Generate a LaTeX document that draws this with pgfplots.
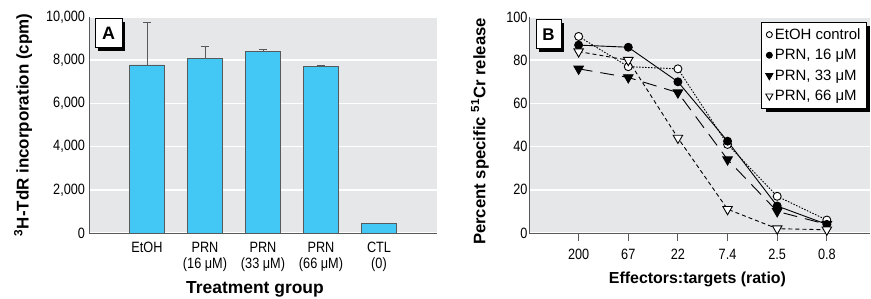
\documentclass[border=0pt]{standalone}
\usepackage{pgfplots}
\pgfplotsset{compat=1.18}
\usepackage{fontspec}
\setmainfont{Liberation Sans}
\newfontfamily\condensed{Liberation Sans}[FakeStretch=0.85]
\usetikzlibrary{shadows}
\definecolor{bggray}{HTML}{E6E7E8}
\definecolor{barblue}{HTML}{43C7F4}
\definecolor{axgray}{HTML}{58595B}
\pgfplotsset{
  tick label style={font=\condensed\fontsize{15}{16}\selectfont},
  label style={font=\bfseries\fontsize{17}{18}\selectfont},
  every axis/.append style={
    scale only axis, anchor=south west,
    axis lines*=left,
    axis line style={draw=axgray, line width=1bp},
    axis background/.style={fill=bggray},
    ymajorgrids, grid style={white, line width=1.5bp},
    scaled y ticks=false,
    ytick style={draw=none},
  }
}
\begin{document}
\begin{tikzpicture}
\useasboundingbox (0,0) rectangle (871bp,299bp);
% Panel A
\begin{axis}[
  at={(89bp,66bp)}, width=348bp, height=216bp,
  xmin=-1, xmax=5, ymin=0, ymax=10000,
  ytick={0,2000,4000,6000,8000,10000},
  yticklabels={0,{2,000},{4,000},{6,000},{8,000},{10,000}},
  yticklabel style={font=\condensed\fontsize{15}{16}\selectfont, xshift=-0.5bp},
  xtick={0,1,2,3,4},
  xticklabels={EtOH,{PRN\\(16 μM)},{PRN\\(33 μM)},{PRN\\(66 μM)},{CTL\\(0)}},
  xticklabel style={align=center, yshift=-6bp},
  xtick style={draw=none},
  xlabel={Treatment group},
  ylabel={\textsuperscript{3}H-TdR incorporation (cpm)},
  xlabel style={at={(axis description cs:0.477,-0.259)}, anchor=center, font=\bfseries\fontsize{17.5}{18}\selectfont},
  ylabel style={at={(axis description cs:-0.1895,0.5)}, anchor=center},
]
\addplot[ybar, bar width=35bp, bar shift=0pt, fill=barblue, draw=axgray, line width=0.8bp,
  error bars/.cd, y dir=plus, y explicit,
  error bar style={draw=axgray, line width=0.8bp},
  error mark options={rotate=90, mark size=4bp, draw=axgray, line width=0.8bp}]
  coordinates {(0,7780) +- (0,1970) (1,8090) +- (0,540) (2,8390) +- (0,130) (3,7690) +- (0,60)};
\addplot[ybar, bar width=35bp, bar shift=0pt, fill=barblue, draw=axgray, line width=0.8bp]
  coordinates {(4,430)};
\end{axis}
% Panel B
\begin{axis}[
  at={(529bp,66bp)}, width=341bp, height=216bp,
  xmin=-1, xmax=5.87, ymin=0, ymax=100,
  ytick={0,20,40,60,80,100},
  yticklabels={0,20,40,60,80,100},
  yticklabel style={font=\condensed\fontsize{15}{16}\selectfont, xshift=10bp},
  xtick={0,...,5},
  xticklabels={200,67,22,7.4,2.5,0.8},
  tick align=outside, major tick length=8bp,
  xtick style={draw=axgray, line width=1bp},
  xticklabel style={yshift=-5bp},
  xlabel={Effectors:targets (ratio)},
  ylabel={Percent specific \textsuperscript{51}Cr release},
  xlabel style={at={(axis description cs:0.494,-0.213)}, anchor=center, font=\bfseries\fontsize{16}{18}\selectfont},
  ylabel style={at={(axis description cs:-0.1437,0.47)}, anchor=center, font=\bfseries\fontsize{16.75}{18}\selectfont},
  legend style={at={(0.991,0.977)}, anchor=north east, draw=black, line width=1bp, fill=white,
    font=\fontsize{15}{17}\selectfont, row sep=4.5bp, inner sep=4bp,
    drop shadow={shadow xshift=4bp, shadow yshift=-4bp, opacity=1, fill=black}},
  legend cell align=left,
  legend image code/.code={\draw[#1, every mark/.append style={scale=0.75}] plot coordinates {(0.12cm,0cm)};},
]
\addplot[black, line width=0.9bp, dash pattern=on 1.5bp off 1.5bp, mark=*, mark size=4bp,
  mark options={solid, fill=white, draw=black}]
  coordinates {(0,91) (1,77) (2,76) (3,41) (4,17) (5,6)};
\addlegendentry{EtOH control}
\addplot[black, line width=0.9bp, mark=*, mark size=4bp, mark options={solid, fill=black}]
  coordinates {(0,87) (1,86) (2,70) (3,42.5) (4,12.5) (5,4)};
\addlegendentry{PRN, 16 μM}
\addplot[black, line width=0.9bp, dash pattern=on 14bp off 8bp, mark=triangle*, mark size=5.5bp,
  mark options={solid, fill=black, rotate=180}]
  coordinates {(0,76) (1,72) (2,65) (3,34) (4,10) (5,4)};
\addlegendentry{PRN, 33 μM}
\addplot[black, line width=0.9bp, dash pattern=on 4bp off 3bp, mark=triangle*, mark size=5.5bp,
  mark options={solid, fill=white, draw=black, rotate=180}]
  coordinates {(0,84) (1,80) (2,44) (3,11) (4,2) (5,1.5)};
\addlegendentry{PRN, 66 μM}
\end{axis}
% panel letters
\node[draw=black, line width=1bp, fill=white, minimum width=27bp, minimum height=29bp, inner sep=0pt,
  font=\bfseries\fontsize{18}{18}\selectfont,
  drop shadow={shadow xshift=3bp, shadow yshift=-3bp, opacity=1, fill=black}] at (108.5bp,265.5bp) {A};
\node[draw=black, line width=1bp, fill=white, minimum width=25bp, minimum height=29bp, inner sep=0pt,
  font=\bfseries\fontsize{17}{18}\selectfont,
  drop shadow={shadow xshift=3bp, shadow yshift=-3bp, opacity=1, fill=black}] at (548.5bp,264.5bp) {B};
\end{tikzpicture}
\end{document}
